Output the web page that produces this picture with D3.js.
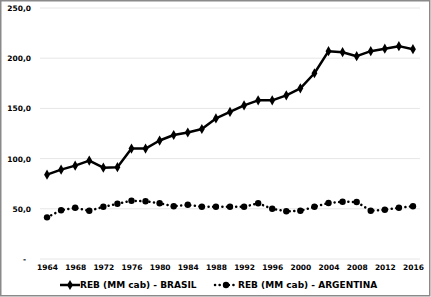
<!DOCTYPE html>
<html>
<head>
<meta charset="utf-8">
<script src="https://cdn.jsdelivr.net/npm/d3@7"></script>
<style>
  body { margin: 0; background: #fff; }
  svg { display: block; font-family: "DejaVu Sans", Verdana, sans-serif; font-weight: bold; }
</style>
</head>
<body>
<div id="chart"></div>
<script>
const years = [1964, 1966, 1968, 1970, 1972, 1974, 1976, 1978, 1980, 1982, 1984, 1986, 1988,
    1990, 1992, 1994, 1996, 1998, 2000, 2002, 2004, 2006, 2008, 2010, 2012, 2014, 2016];
const brasil = [84, 89, 93, 98, 91, 91.5, 110, 110, 118, 123.5, 126, 129.5, 140,
    146.5, 153, 158, 158, 163, 170, 185, 207, 206, 202, 207, 209.5, 212, 209];
const argentina = [41.5, 48.5, 51, 48, 52, 55, 58, 57.5, 55.5, 52.5, 54, 52, 52,
    52, 52, 55.5, 50, 47.5, 48, 52, 55.8, 57, 56.8, 48, 49, 51, 52.5];
const yTicks = [0, 50, 100, 150, 200, 250];
const xTickYears = [1964, 1968, 1972, 1976, 1980, 1984, 1988, 1992, 1996, 2000, 2004, 2008, 2012, 2016];
const seriesNames = ["REB (MM cab) - BRASIL", "REB (MM cab) - ARGENTINA"];

const W = 431, H = 297;
const plot = { left: 40, right: 420, top: 8, bottom: 259 };

const svg = d3.select("#chart").append("svg")
    .attr("width", W)
    .attr("height", H);

// outer frame
svg.append("rect")
    .attr("x", 0.75).attr("y", 0.75)
    .attr("width", W - 2).attr("height", H - 2)
    .attr("fill", "#fff")
    .attr("stroke", "#8a8a8a")
    .attr("stroke-width", 1.5);

const x = d3.scalePoint()
    .domain(years)
    .range([plot.left, plot.right])
    .padding(0.5);

const y = d3.scaleLinear()
    .domain([0, 250])
    .range([plot.bottom, plot.top]);

// gridlines
svg.append("g")
    .selectAll("line")
    .data(yTicks)
    .join("line")
    .attr("x1", plot.left).attr("x2", plot.right)
    .attr("y1", d => y(d)).attr("y2", d => y(d))
    .attr("stroke", "#e6e6e6")
    .attr("stroke-width", 1);

// y axis labels
const yAxis = d3.axisLeft(y)
    .tickValues(yTicks)
    .tickSize(0)
    .tickPadding(0)
    .tickFormat(d => d === 0 ? "-" : d3.format(".1f")(d).replace(".", ","));

const gy = svg.append("g")
    .attr("transform", "translate(31,0)")
    .call(yAxis);
gy.select(".domain").remove();
gy.selectAll("text")
    .attr("font-size", 7.5)
    .attr("font-family", "DejaVu Sans, Verdana, sans-serif")
    .attr("font-weight", "bold")
    .attr("fill", "#000")
    .attr("dx", d => d === 0 ? -5 : 0);

// x axis labels
const xAxis = d3.axisBottom(x)
    .tickValues(xTickYears)
    .tickSize(0)
    .tickPadding(0);

const gx = svg.append("g")
    .attr("transform", `translate(0,${plot.bottom + 6})`)
    .call(xAxis);
gx.select(".domain").remove();
gx.selectAll("text")
    .attr("font-size", 7.5)
    .attr("font-family", "DejaVu Sans, Verdana, sans-serif")
    .attr("font-weight", "bold")
    .attr("fill", "#000");

const line = d3.line()
    .x((d, i) => x(years[i]))
    .y(d => y(d));

// Brasil series: solid line with diamonds
svg.append("path")
    .datum(brasil)
    .attr("d", line)
    .attr("fill", "none")
    .attr("stroke", "#000")
    .attr("stroke-width", 2.5)
    .attr("stroke-linejoin", "round");

const diamond = d3.symbol().type(d3.symbolDiamond).size(30);
svg.append("g")
    .selectAll("path")
    .data(brasil)
    .join("path")
    .attr("d", diamond)
    .attr("transform", (d, i) => `translate(${x(years[i])},${y(d)})`)
    .attr("fill", "#000");

// Argentina series: round-dot line with circles
svg.append("path")
    .datum(argentina)
    .attr("d", line)
    .attr("fill", "none")
    .attr("stroke", "#000")
    .attr("stroke-width", 2.5)
    .attr("stroke-linecap", "round")
    .attr("stroke-dasharray", "0.1,4.5");

svg.append("g")
    .selectAll("circle")
    .data(argentina)
    .join("circle")
    .attr("cx", (d, i) => x(years[i]))
    .attr("cy", d => y(d))
    .attr("r", 3.2)
    .attr("fill", "#000");

// legend
const legendY = 285;
const leg1 = svg.append("g").attr("transform", `translate(60,${legendY})`);
leg1.append("line")
    .attr("x1", 0).attr("x2", 20)
    .attr("stroke", "#000").attr("stroke-width", 2.5);
leg1.append("path")
    .attr("d", diamond)
    .attr("transform", "translate(10,0)");
leg1.append("text")
    .attr("x", 20)
    .attr("dy", "0.35em")
    .attr("font-size", 9)
    .text(seriesNames[0]);

const leg2 = svg.append("g").attr("transform", `translate(215,${legendY})`);
leg2.append("line")
    .attr("x1", 0).attr("x2", 22)
    .attr("stroke", "#000").attr("stroke-width", 2.5)
    .attr("stroke-linecap", "round")
    .attr("stroke-dasharray", "0.1,4.5");
leg2.append("circle")
    .attr("cx", 11).attr("r", 3.2);
leg2.append("text")
    .attr("x", 23)
    .attr("dy", "0.35em")
    .attr("font-size", 9)
    .text(seriesNames[1]);
</script>
</body>
</html>
